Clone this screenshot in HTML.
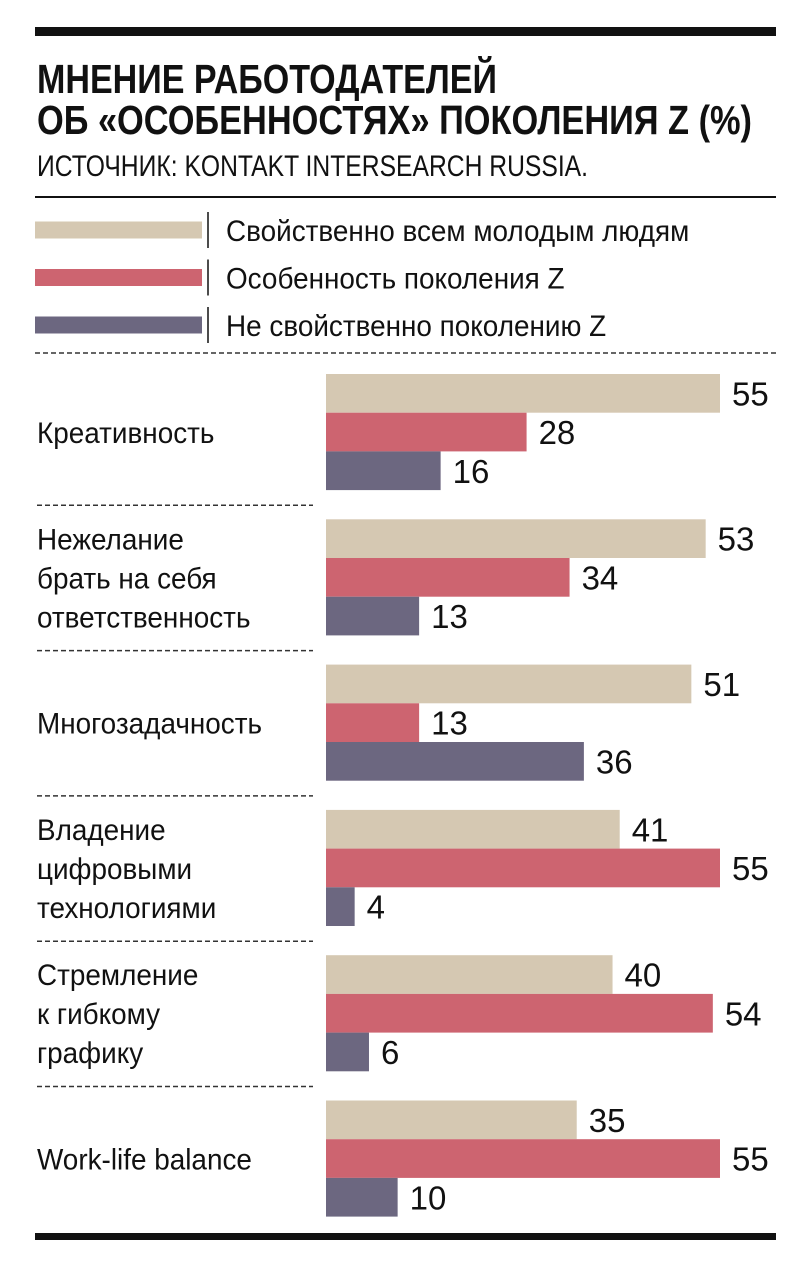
<!DOCTYPE html>
<html><head><meta charset="utf-8"><style>
html,body{margin:0;padding:0;background:#fff}
svg{display:block}
text{font-family:"Liberation Sans",sans-serif;fill:#111}
</style></head><body>
<svg id="c" width="812" height="1280" viewBox="0 0 812 1280">
<rect x="35" y="27" width="741" height="9" fill="#111"/>
<text x="37" y="93" font-size="41" font-weight="bold" textLength="460" lengthAdjust="spacingAndGlyphs">МНЕНИЕ РАБОТОДАТЕЛЕЙ</text>
<text x="37" y="134" font-size="41" font-weight="bold" textLength="715" lengthAdjust="spacingAndGlyphs">ОБ «ОСОБЕННОСТЯХ» ПОКОЛЕНИЯ Z (%)</text>
<text x="37" y="176" font-size="30" textLength="551" lengthAdjust="spacingAndGlyphs">ИСТОЧНИК: KONTAKT INTERSEARCH RUSSIA.</text>
<rect x="35" y="196" width="741" height="2" fill="#111"/>
<line x1="35" y1="353" x2="776" y2="353" stroke="#333" stroke-width="1.5" stroke-dasharray="5,3"/>
<g id="legend"></g>
<g id="plot"></g>
<rect x="35" y="1233" width="741" height="7" fill="#111"/>
</svg>
<script>
const categories = [["Креативность"],["Нежелание","брать на себя","ответственность"],["Многозадачность"],["Владение","цифровыми","технологиями"],["Стремление","к гибкому","графику"],["Work-life balance"]];
const seriesNames = ["Свойственно всем молодым людям","Особенность поколения Z","Не свойственно поколению Z"];
const allYoung = [55,53,51,41,40,35];
const genZ = [28,34,13,55,54,55];
const notGenZ = [16,13,36,4,6,10];
const colors = ["#d5c8b2","#cd6470","#6c6780"];
const series = [allYoung, genZ, notGenZ];
const NS = "http://www.w3.org/2000/svg";
const x0 = 326, xScale = v => x0 + v * (394/55);
const groupTop = i => 374 + i * 145.3;
const barH = 38.7;
function mk(tag, attrs, parent){const e=document.createElementNS(NS,tag);for(const k in attrs)e.setAttribute(k,attrs[k]);parent.appendChild(e);return e;}
const legend = document.getElementById('legend');
seriesNames.forEach((n,i)=>{
  const cy = 230 + i*47.5;
  const r = mk('rect',{x:35,y:cy-8.5,width:167,height:17,fill:colors[i]},legend);
  
  
  const l = mk('line',{x1:208,y1:cy-18,x2:208,y2:cy+18,stroke:'#111','stroke-width':1.5},legend);
  
  
  const t = mk('text',{x:226,y:cy+11,'font-size':30,transform:'translate(226 0) scale(0.93 1) translate(-226 0)'},legend);
  t.textContent = n;
  
  
});
const plot = document.getElementById('plot');
categories.forEach((lines,g)=>{
  const top = groupTop(g);
  const center = top + barH*1.5;
  const lh = 39;
  lines.forEach((ln,k)=>{
    const y = center - (lines.length-1)*lh/2 + k*lh + 11;
    const t = mk('text',{x:37,y:y,'font-size':30,transform:'translate(37 0) scale(0.93 1) translate(-37 0)'},plot);
    t.textContent = ln;
    
    
  });
  if(g>0){
    const d = mk('line',{x1:37,y1:top-14,x2:313,y2:top-14,stroke:'#333','stroke-width':1.5,'stroke-dasharray':'5,3'},plot);
    
    
  }
  series.forEach((s,i)=>{
    const y = top + i*barH;
    const b = mk('rect',{x:x0,y:y,width:xScale(s[g])-x0,height:barH,fill:colors[i]},plot);
    
    
    const t = mk('text',{x:xScale(s[g])+12,y:y+barH/2+12,'font-size':33},plot);
    t.textContent = s[g];
    
    
  });
});
</script>
</body></html>
